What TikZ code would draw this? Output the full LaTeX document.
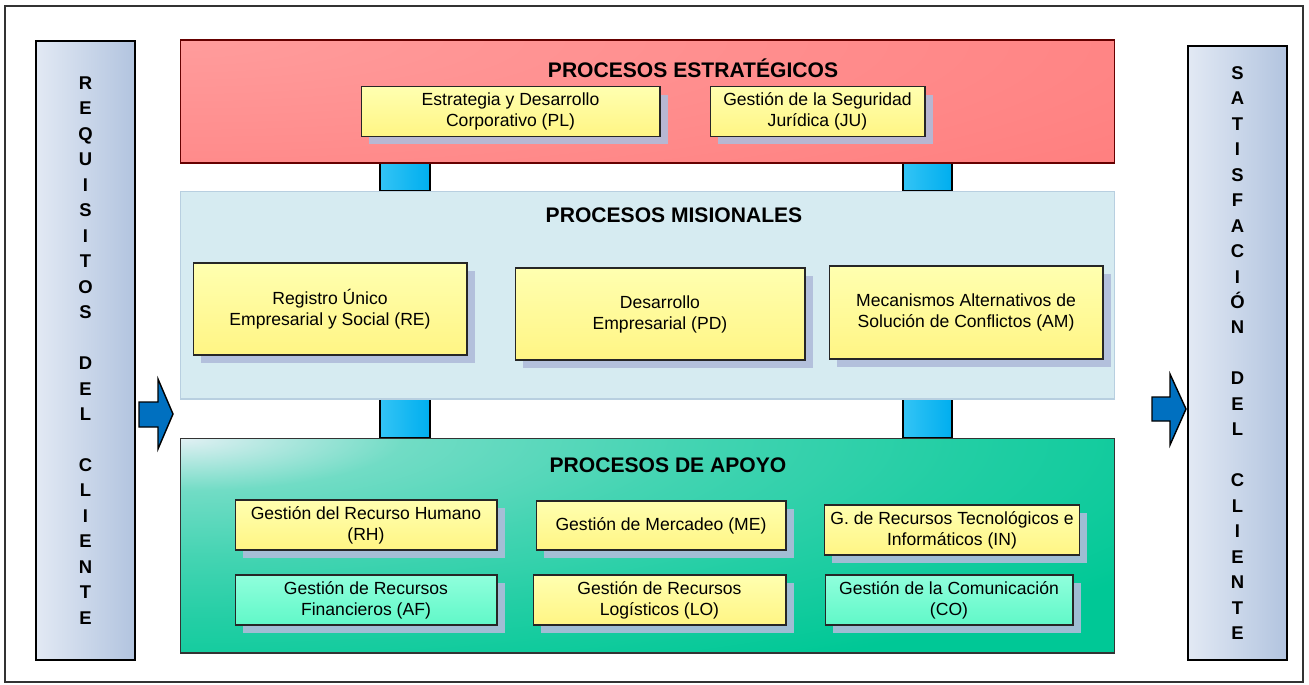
\documentclass[tikz,border=0pt]{standalone}
\usepackage{fontspec}
\setmainfont{Liberation Sans}
\usepackage{tikz}
\usetikzlibrary{shadows}

\definecolor{redtop}{HTML}{FF9C9C}
\definecolor{redbot}{HTML}{FF7272}
\definecolor{misfill}{HTML}{D6EBF1}
\definecolor{misline}{HTML}{B8CFE0}
\definecolor{apotop}{HTML}{E2F0F4}
\definecolor{apobot}{HTML}{00C896}
\definecolor{ytop}{HTML}{FFFFB0}
\definecolor{ybot}{HTML}{FFF584}
\definecolor{gtop}{HTML}{90FFDC}
\definecolor{gbot}{HTML}{60F8C8}
\definecolor{coltop}{HTML}{E2E9F4}
\definecolor{colbot}{HTML}{B2C4DF}
\definecolor{linktop}{HTML}{33C4F5}
\definecolor{linkbot}{HTML}{00AEEF}
\definecolor{arrowblue}{HTML}{0070C0}
\definecolor{shadowblue}{HTML}{B0BCDA}

\pgfdeclareradialshading{apoglow}{\pgfpoint{0bp}{0bp}}{%
  color(0bp)=(apotop); color(4bp)=(apotop!50!apobot); color(9bp)=(apotop!30!apobot);
  color(14bp)=(apotop!15!apobot); color(20bp)=(apobot); color(50bp)=(apobot)}

\tikzset{
  procbox/.style={draw=black!85, semithick, align=center, font=\fontsize{10}{12}\selectfont,
    drop shadow={shadow xshift=4.5pt, shadow yshift=-4.5pt, fill=shadowblue, opacity=.9}},
  yellowbox/.style={procbox, top color=ytop, bottom color=ybot},
  greenbox/.style={procbox, top color=gtop, bottom color=gbot},
  title/.style={font=\fontsize{12}{14}\selectfont\bfseries},
  column/.style={draw, thick, left color=coltop, right color=colbot},
  letters/.style={font=\fontsize{10.5}{14.5}\selectfont\bfseries, align=center},
  link/.style={draw, thick, left color=linktop, right color=linkbot},
  bigarrow/.style={draw, thick, fill=arrowblue, line join=miter}
}

\begin{document}
\begin{tikzpicture}[x=0.02cm,y=-0.02cm]
  \useasboundingbox (0,0) rectangle (1309,684);
  \draw[thick, black!80] (5,6) rectangle (1303,682);

  % side columns
  \node[column, minimum width=1.98cm, minimum height=12.38cm] (req) at (85.5,350.5) {};
  \node[column, minimum width=1.98cm, minimum height=12.28cm] (sat) at (1237.5,353) {};
  \node[letters] (reqtxt) at (req) {R\\E\\Q\\U\\I\\S\\I\\T\\O\\S\\~\\D\\E\\L\\~\\C\\L\\I\\E\\N\\T\\E};
  \node[letters] (sattxt) at (sat) {S\\A\\T\\I\\S\\F\\A\\C\\I\\Ó\\N\\~\\D\\E\\L\\~\\C\\L\\I\\E\\N\\T\\E};

  % arrows
  \draw[bigarrow] (139,402) -- (158,402) -- (158,379) -- (173,414) -- (158,449) -- (158,427) -- (139,427) -- cycle;
  \draw[bigarrow] (1152,397) -- (1170,397) -- (1170,374) -- (1186,409) -- (1170,445) -- (1170,421) -- (1152,421) -- cycle;

  % links between levels
  \draw[link] (380,163) rectangle (430,191);
  \draw[link] (903,163) rectangle (952,191);
  \draw[link] (380,399) rectangle (430,438);
  \draw[link] (903,399) rectangle (952,438);

  % process levels
  \node[draw=red!40!black, semithick, fill=redbot, minimum width=18.7cm, minimum height=2.46cm,
    path picture={\shade[inner color=redtop, outer color=redbot] (path picture bounding box.north west) ellipse (1700 and 300);}] (strat) at (647.5,101.5) {};
  \node[draw=misline, semithick, fill=misfill, minimum width=18.7cm, minimum height=4.16cm] (mis) at (647.5,295) {};
  \node[draw=black!80, semithick, fill=apobot, minimum width=18.7cm, minimum height=4.3cm,
    path picture={\shade[shading=apoglow] (path picture bounding box.north west) ellipse (1400 and 330);}] (apo) at (647.5,545.5) {};

  \node[title] (strattit) at (693,68) {PROCESOS ESTRATÉGICOS};
  \node[title] (mistit) at (674,215) {PROCESOS MISIONALES};
  \node[title] (apotit) at (668,465) {PROCESOS DE APOYO};

  % strategic
  \node[yellowbox, minimum width=5.98cm, minimum height=0.94cm] (pl) at (510.5,111.5) {Estrategia y Desarrollo\\Corporativo (PL)};
  \node[yellowbox, minimum width=4.3cm, minimum height=0.94cm] (ju) at (817.5,111.5) {Gestión de la Seguridad\\Jurídica (JU)};

  % missional
  \node[yellowbox, minimum width=5.48cm, minimum height=1.84cm] (re) at (330,309) {Registro Único\\Empresarial y Social (RE)};
  \node[yellowbox, minimum width=5.8cm, minimum height=1.84cm] (pd) at (660,314) {Desarrollo\\Empresarial (PD)};
  \node[yellowbox, minimum width=5.48cm, minimum height=1.86cm] (am) at (966,312.5) {Mecanismos Alternativos de\\Solución de Conflictos (AM)};

  % support
  \node[yellowbox, minimum width=5.24cm, minimum height=1cm] (rh) at (366,525) {Gestión del Recurso Humano\\(RH)};
  \node[yellowbox, minimum width=5cm, minimum height=0.98cm] (me) at (661,525.5) {Gestión de Mercadeo (ME)};
  \node[yellowbox, minimum width=5.08cm, minimum height=1cm] (in) at (952,530) {G. de Recursos Tecnológicos e\\Informáticos (IN)};
  \node[greenbox, minimum width=5.24cm, minimum height=1cm] (af) at (366,600) {Gestión de Recursos\\Financieros (AF)};
  \node[yellowbox, minimum width=5.06cm, minimum height=1cm] (lo) at (659.5,600) {Gestión de Recursos\\Logísticos (LO)};
  \node[greenbox, minimum width=4.96cm, minimum height=1cm] (co) at (949,600) {Gestión de la Comunicación\\(CO)};
\end{tikzpicture}
\end{document}
